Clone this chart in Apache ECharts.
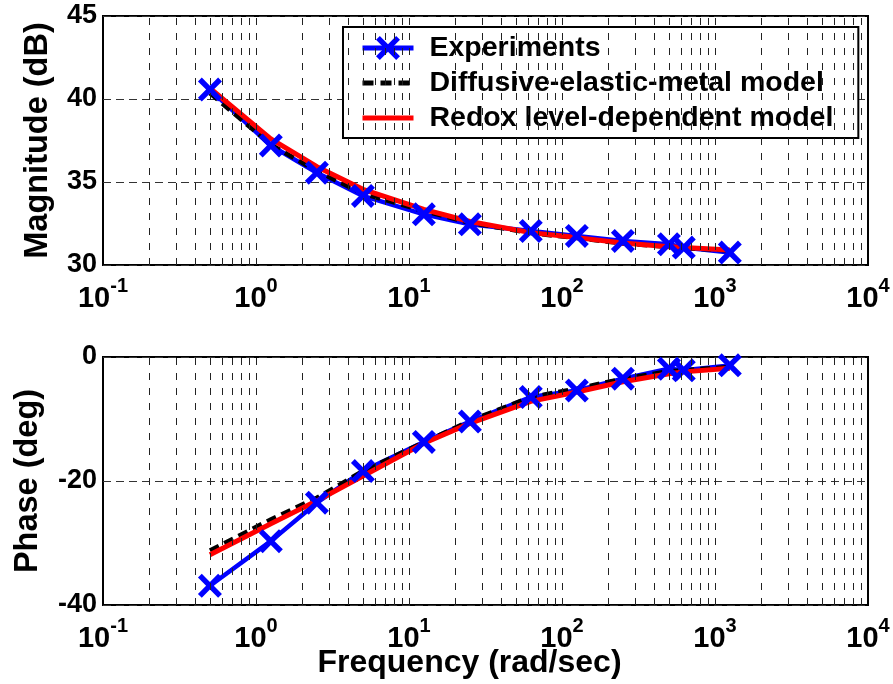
<!DOCTYPE html>
<html><head><meta charset="utf-8">
<script src="https://cdn.jsdelivr.net/npm/echarts@6/dist/echarts.min.js"></script>
<style>html,body{margin:0;padding:0;background:#fff}#c{width:893px;height:684px}</style>
</head><body><div id="c"></div>
<script>
// ---- data ----
const freq = [0.5, 1.25, 2.5, 5, 12.5, 25, 62.5, 125, 250, 500, 625, 1250];
const magExp   = [40.57, 37.2, 35.56, 34.16, 33.05, 32.45, 32.05, 31.75, 31.45, 31.25, 31.05, 30.75];
const magDiff  = [40.35, 37.25, 35.65, 34.3, 33.25, 32.55, 31.92, 31.62, 31.3, 31.08, 31.02, 30.88];
const magRedox = [40.65, 37.6, 35.92, 34.56, 33.35, 32.62, 31.95, 31.65, 31.32, 31.1, 31.05, 30.9];
const phExp    = [-36.9, -29.7, -23.5, -18.4, -13.7, -10.4, -6.45, -5.4, -3.5, -1.9, -2.15, -1.35];
const phDiff   = [-31.2, -26.2, -22.7, -18.4, -13.75, -10.3, -6.45, -5.1, -3.5, -2.3, -2.15, -1.6];
const phRedox  = [-31.9, -26.9, -23.2, -19.2, -13.9, -10.7, -7.15, -5.65, -4.0, -2.7, -2.4, -1.8];
const seriesNames = ['Experiments', 'Diffusive-elastic-metal model', 'Redox level-dependent model'];
const decadeStarts = [0.1, 1, 10, 100, 1000];
const gridFreqs = [];
decadeStarts.forEach((d, i) => {
  if (i > 0) gridFreqs.push(d);
  for (let k = 2; k <= 9; k++) gridFreqs.push(+(k * d).toPrecision(3));
});

const FF = "'Liberation Sans', Arial, Helvetica, sans-serif";
const pairs = ys => freq.map((f, i) => [f, ys[i]]);
const XPATH = 'path://M0,16L16,0L50,34L84,0L100,16L66,50L100,84L84,100L50,66L16,100L0,84L34,50Z';

function xAxisCfg(idx, withName) {
  const a = {
    type: 'log', logBase: 10, min: 0.1, max: 10000, gridIndex: idx,
    axisLine: { show: false }, axisTick: { show: false }, splitLine: { show: false },
    axisLabel: {
      margin: 19,
      formatter: v => '{b|10}{s|' + Math.round(Math.log10(v)) + '}',
      rich: {
        b: { fontSize: 29, fontWeight: 'bold', fontFamily: FF, color: '#000', lineHeight: 30 },
        s: { fontSize: 20, fontWeight: 'bold', fontFamily: FF, color: '#000', lineHeight: 20, padding: [0, 0, 26, 0] }
      }
    }
  };
  if (withName) {
    a.name = 'Frequency (rad/sec)';
    a.nameLocation = 'middle';
    a.nameGap = 42;
    a.nameMoveOverlap = false;
    a.nameTextStyle = { fontSize: 32, fontWeight: 'bold', fontFamily: FF, color: '#000', padding: [0, 32, 0, 0] };
  }
  return a;
}
function yAxisCfg(idx, name, min, max, interval, gap) {
  return {
    type: 'value', gridIndex: idx, min: min, max: max, interval: interval,
    name: name, nameLocation: 'middle', nameGap: gap, nameMoveOverlap: false,
    nameTextStyle: { fontSize: 32.5, fontWeight: 'bold', fontFamily: FF, color: '#000' },
    axisLine: { show: false }, axisTick: { show: false },
    axisLabel: { fontSize: 27, fontWeight: 'bold', fontFamily: FF, color: '#000', margin: 6 },
    splitLine: { lineStyle: { type: [8, 5], color: '#333', width: 1 } }
  };
}
function gridSeries(idx) {
  return {
    type: 'line', xAxisIndex: idx, yAxisIndex: idx, data: [], silent: true,
    markLine: {
      silent: true, symbol: 'none', label: { show: false }, animation: false,
      lineStyle: { type: [7, 8], color: '#222', width: 1 },
      data: gridFreqs.map(v => ({ xAxis: v }))
    }
  };
}
function dataSeries(idx, exp, diff, redox) {
  return [
    { name: seriesNames[0], type: 'line', xAxisIndex: idx, yAxisIndex: idx, data: pairs(exp),
      symbol: XPATH, symbolSize: 24, symbolKeepAspect: true,
      lineStyle: { color: '#0000ff', width: 4.5 }, itemStyle: { color: '#0000ff' } },
    { name: seriesNames[1], type: 'line', xAxisIndex: idx, yAxisIndex: idx, data: pairs(diff),
      symbol: 'none', lineStyle: { color: '#000', width: 4.5, type: [10, 6] }, itemStyle: { color: '#000' } },
    { name: seriesNames[2], type: 'line', xAxisIndex: idx, yAxisIndex: idx, data: pairs(redox),
      symbol: 'none', lineStyle: { color: '#ff0000', width: 5 }, itemStyle: { color: '#ff0000' } }
  ];
}

const chart = echarts.init(document.getElementById('c'), null, { renderer: 'canvas' });
chart.setOption({
  animation: false,
  backgroundColor: '#fff',
  grid: [
    { left: 103, top: 16, width: 765, height: 249, show: true, borderColor: '#000', borderWidth: 2, backgroundColor: 'transparent', containLabel: false, outerBoundsMode: 'none' },
    { left: 103, top: 357, width: 765, height: 248, show: true, borderColor: '#000', borderWidth: 2, backgroundColor: 'transparent', containLabel: false, outerBoundsMode: 'none' }
  ],
  xAxis: [xAxisCfg(0, false), xAxisCfg(1, true)],
  yAxis: [yAxisCfg(0, 'Magnitude (dB)', 30, 45, 5, 48), yAxisCfg(1, 'Phase (deg)', -40, 0, 20, 58)],
  legend: {
    data: [
      { name: seriesNames[0], lineStyle: { width: 5 } },
      { name: seriesNames[1], itemStyle: { opacity: 0 }, lineStyle: { width: 5, type: [11, 7] } },
      { name: seriesNames[2], itemStyle: { opacity: 0 }, lineStyle: { width: 5 } }
    ],
    orient: 'vertical', left: 343, top: 27,
    itemWidth: 51, itemHeight: 30, itemGap: 5, padding: [6, 25, 5, 17],
    backgroundColor: '#fff', borderColor: '#000', borderWidth: 2, borderRadius: 0,
    selectedMode: false,
    lineStyle: { width: 'inherit' },
    textStyle: { fontSize: 28.5, fontWeight: 'bold', fontFamily: FF, color: '#000', lineHeight: 30, padding: [0, 0, 0, 11] }
  },
  series: [gridSeries(0), gridSeries(1)]
    .concat(dataSeries(0, magExp, magDiff, magRedox))
    .concat(dataSeries(1, phExp, phDiff, phRedox))
});
</script></body></html>
